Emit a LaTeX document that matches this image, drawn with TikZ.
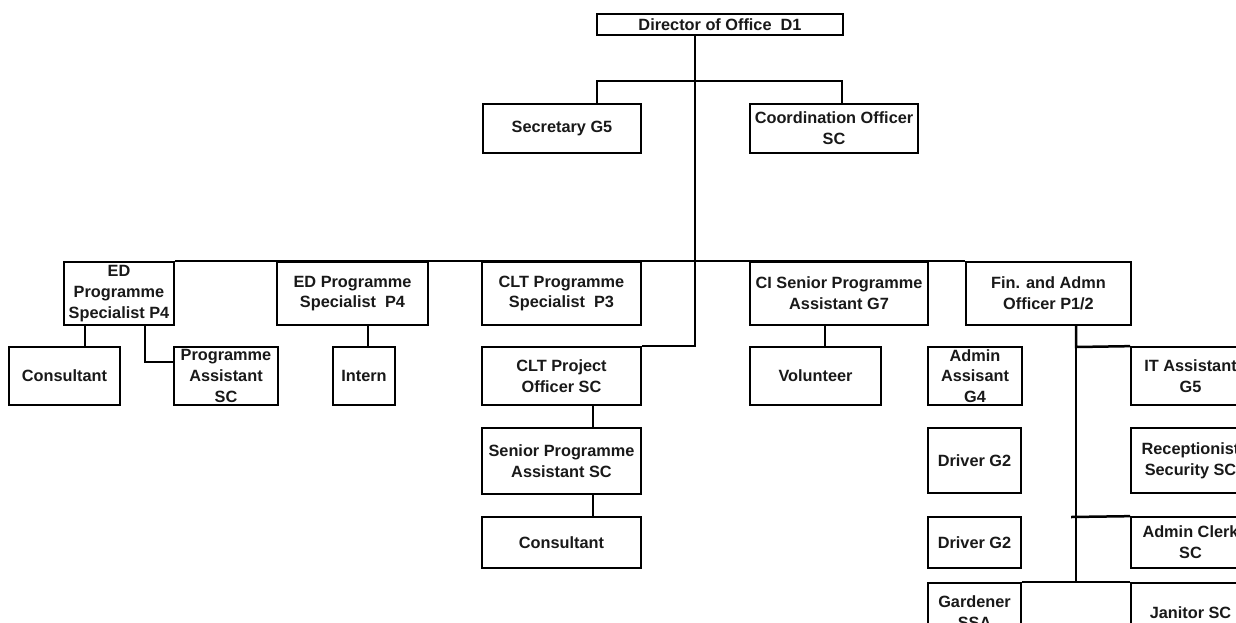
\documentclass[tikz,border=0pt]{standalone}
\usepackage{fontspec}
\setmainfont{Liberation Sans}
\newcommand\obox[6]{%
  \node[orgbox, minimum width={(#4-#2)*1pt}, minimum height={(#5-#3)*1pt}] (#1) at ({(#2+#4)/2},{(#3+#5)/2}) {};
  \node[orgtxt] (#1t) at (#1.center) {#6};}
\begin{document}
\begin{tikzpicture}[x=1pt,y=-1pt,
  orgbox/.style={draw=black, line width=1.7pt, inner sep=0pt, rectangle},
  orgtxt/.style={inner sep=0pt, align=center, text=black!90, font=\fontsize{16.3}{20.8}\selectfont\bfseries},
  conn/.style={draw=black, line width=1.6pt},
  connb/.style={draw=black, line width=2.5pt}]
\useasboundingbox (0,0) rectangle (1236,622);
\clip (0,0) rectangle (1236,622);
\fill[white] (0,0) rectangle (1236,622);

% junction coordinates
\coordinate (jm) at (695,81);
\coordinate (js) at (597,81);
\coordinate (jc) at (842,81);
\coordinate (ja) at (85,330);
\coordinate (jb) at (145,330);
\coordinate (jd) at (368,330);
\coordinate (je) at (593,410);
\coordinate (jf) at (825,330);
\coordinate (fj) at (1076,347);
\coordinate (fk) at (1071,517);

% boxes
\obox{dir}{597}{14}{843}{35}{Director of Office\ \ D1}
\obox{sec}{483}{104}{641}{153}{Secretary G5}
\obox{coord}{750}{104}{918}{153}{Coordination Officer\\SC}
\obox{ed1}{64}{262}{174}{325}{ED\\Programme\\Specialist P4}
\obox{ed2}{277}{262}{428}{325}{ED Programme\\Specialist\ \ P4}
\obox{cltps}{482}{262}{641}{325}{CLT Programme\\Specialist\ \ P3}
\obox{ci}{750}{262}{928}{325}{CI Senior Programme\\Assistant G7}
\obox{fin}{966}{262}{1131}{325}{Fin. and Admn\\Officer P1/2}
\obox{cons1}{9}{347}{120}{405}{Consultant}
\obox{pa}{174}{347}{278}{405}{Programme\\Assistant\\SC}
\obox{intern}{333}{347}{395}{405}{Intern}
\obox{cltpo}{482}{347}{641}{405}{CLT Project\\Officer SC}
\obox{spa}{482}{428}{641}{494}{Senior Programme\\Assistant SC}
\obox{cons2}{482}{517}{641}{568}{Consultant}
\obox{vol}{750}{347}{881}{405}{Volunteer}
\obox{adm}{928}{347}{1022}{405}{Admin\\Assisant\\G4}
\obox{it}{1131}{347}{1250}{405}{IT Assistant\\G5}
\obox{drv1}{928}{428}{1021}{493}{Driver G2}
\obox{rec}{1131}{428}{1250}{493}{Receptionist\\Security SC}
\obox{drv2}{928}{517}{1021}{568}{Driver G2}
\obox{clerk}{1131}{517}{1250}{568}{Admin Clerk\\SC}
\obox{gard}{928}{583}{1021}{642}{Gardener\\SSA}
\obox{jan}{1131}{583}{1250}{642}{Janitor SC}

% top part
\draw[conn] (jm |- dir.south) -- (jm |- cltpo.north east) -- (cltpo.north east);
\draw[conn] (js |- sec.north) -- (js) -- (jc) -- (jc |- coord.north);
\draw[conn] (ed1.north east) -- (fin.north west);
% second level
\draw[connb] (ja |- ed1.south) -- (ja |- cons1.north);
\draw[connb] (jb |- ed1.south) |- ([yshift=-16pt]pa.north west);
\draw[connb] (jd |- ed2.south) -- (jd |- intern.north);
\draw[connb] (je |- cltpo.south) -- (je |- spa.north);
\draw[connb] (je |- spa.south) -- (je |- cons2.north);
\draw[connb] (jf |- ci.south) -- (jf |- vol.north);
\draw[connb] (fj |- fin.south) -- (fj) -- (it.north west);
\draw[conn] (fj) -- (fj |- gard.north);
\draw[connb] (fk) -- (clerk.north west);
\draw[conn] (gard.north east) -- (jan.north west);
\end{tikzpicture}
\end{document}
